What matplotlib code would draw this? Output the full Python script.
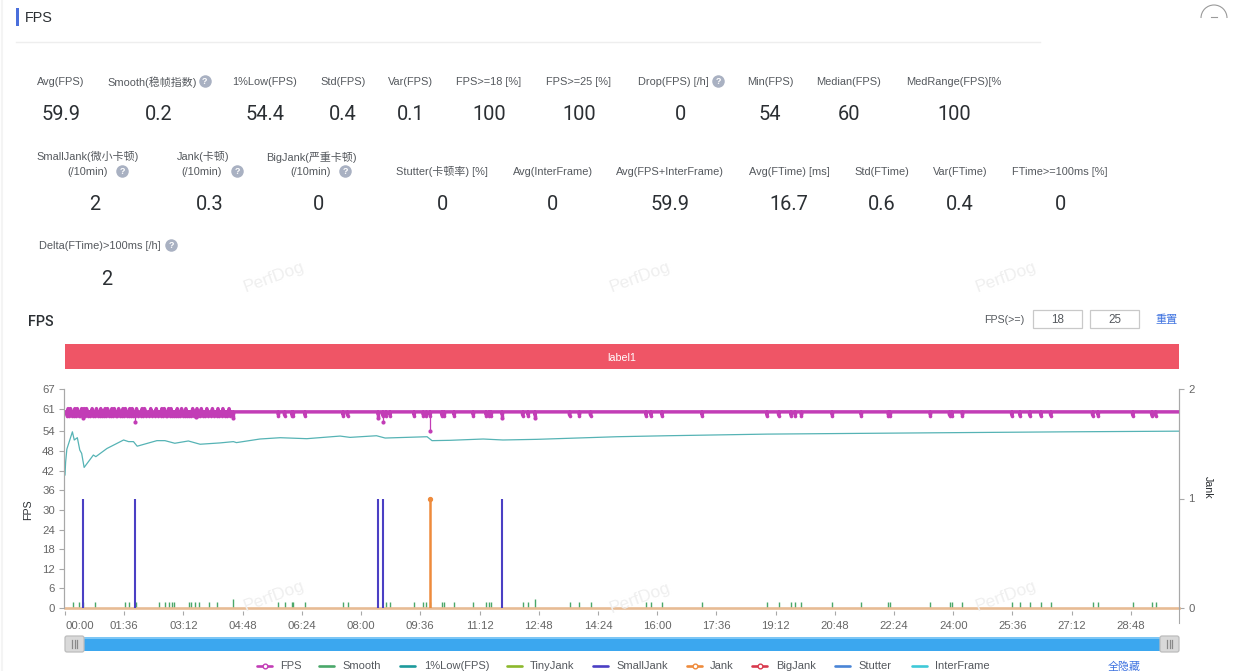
import matplotlib
matplotlib.use("Agg")
import matplotlib.pyplot as plt
from matplotlib.patches import Rectangle, FancyBboxPatch, Arc
import numpy as np

plt.rcParams['font.family'] = ['Liberation Sans', 'Noto Sans CJK SC', 'DejaVu Sans']
NUM_FONT = ['Roboto', 'Liberation Sans', 'DejaVu Sans']

W, H = 1242, 671
DURATION = 1806  # seconds

# summary stats
row1_labels = ["Avg(FPS)", "Smooth(稳帧指数)", "1%Low(FPS)", "Std(FPS)", "Var(FPS)", "FPS>=18 [%]",
               "FPS>=25 [%]", "Drop(FPS) [/h]", "Min(FPS)", "Median(FPS)", "MedRange(FPS)[%"]
row1_values = ["59.9", "0.2", "54.4", "0.4", "0.1", "100", "100", "0", "54", "60", "100"]
row2_labels = ["Stutter(卡顿率) [%]", "Avg(InterFrame)", "Avg(FPS+InterFrame)", "Avg(FTime) [ms]",
               "Std(FTime)", "Var(FTime)", "FTime>=100ms [%]"]
row2_values = ["0", "0", "59.9", "16.7", "0.6", "0.4", "0"]
jank_labels = ["SmallJank(微小卡顿)", "Jank(卡顿)", "BigJank(严重卡顿)"]
jank_values = ["2", "0.3", "0"]

# x axis
xtick_secs = [96 * i for i in range(19)]
xtick_labels = ["00:00", "01:36", "03:12", "04:48", "06:24", "08:00", "09:36", "11:12", "12:48", "14:24",
                "16:00", "17:36", "19:12", "20:48", "22:24", "24:00", "25:36", "27:12", "28:48"]
fps_ticks = [0, 6, 12, 18, 24, 30, 36, 42, 48, 54, 61, 67]
jank_ticks = [0, 1, 2]

# FPS sits at 60 apart from these
fps_dip_times = [3, 7, 11, 14, 18, 22, 25, 29, 33, 37, 41, 46, 49, 53, 56, 60, 63, 67, 71, 74, 78, 82, 85, 89,
                 92, 96, 100, 103, 107, 111, 114, 118, 123, 127, 131, 136, 141, 146, 150, 155, 159, 163, 166,
                 170, 174, 177, 180, 184, 187, 191, 194, 198, 201, 205, 209, 212, 216, 219, 223, 227, 232, 236,
                 241, 246, 250, 254, 259, 263, 268, 273,
                 346, 356, 368, 370, 389, 451, 458, 508, 515, 520, 527, 566, 581, 586, 592, 611, 615, 631,
                 662, 683, 687, 691, 709, 742, 751, 762, 818, 834, 852, 942, 950, 968, 1033, 1138, 1157, 1177,
                 1184, 1194, 1244, 1291, 1335, 1338, 1403, 1434, 1438, 1455, 1535, 1548, 1564, 1582, 1598,
                 1666, 1675, 1731, 1762, 1768]
fps_deep_times = [29, 114, 212, 273, 508, 515, 592, 709, 762]
fps_deep_values = [58, 57, 58.5, 58, 58, 57, 54, 58, 58]
fps_peak_times = [5, 9, 16, 20, 27, 31, 35, 44, 51, 58, 65, 69, 76, 80, 87, 94, 98, 105, 109, 116, 125, 129,
                  139, 148, 157, 161, 168, 172, 182, 189, 196, 207, 214, 221, 230, 239, 248, 256, 266]

# 1%Low(FPS), read at the bends
low_times = [0, 1, 3, 12, 15, 20, 24, 27, 31, 46, 50, 68, 95, 103, 111, 117, 149, 162, 178, 200, 219, 251, 273,
             278, 316, 349, 392, 446, 462, 505, 519, 587, 595, 624, 678, 710, 765, 895, 976, 1138, 1273, 1408,
             1625, 1806]
low_values = [40.7, 44.6, 48.6, 53.9, 51.4, 52.1, 48.3, 47.3, 43, 46.8, 46.3, 48.8, 51.4, 50.9, 50.9, 49.5,
              51.2, 51.2, 50.4, 51.1, 50.1, 50.5, 50.9, 50.6, 51.7, 52.1, 51.8, 52.6, 52.2, 52.7, 52, 52.4,
              51.2, 51.3, 51.7, 51.4, 51.6, 52.4, 52.7, 53.2, 53.4, 53.6, 53.9, 54.1]

# Smooth spikes on the FPS axis
smooth_times = [13, 22, 29, 48, 97, 104, 115, 152, 162, 169, 173, 177, 201, 204, 211, 217, 234, 247, 273, 346,
                356, 368, 370, 389, 451, 458, 520, 527, 566, 581, 586, 592, 611, 615, 631, 662, 683, 687, 691,
                742, 751, 762, 818, 834, 852, 942, 950, 968, 1033, 1138, 1157, 1177, 1184, 1194, 1244, 1291,
                1335, 1338, 1403, 1434, 1438, 1455, 1535, 1548, 1564, 1582, 1598, 1666, 1675, 1731, 1762, 1768]
smooth_tall_times = [273, 762]
smooth_height = 1.9
smooth_tall_height = 2.9

# jank events, in counts on the right axis
small_jank_times = [29, 114, 508, 515, 709]
jank_times = [592]

series_names = ["FPS", "Smooth", "1%Low(FPS)", "TinyJank", "SmallJank", "Jank", "BigJank", "Stutter", "InterFrame"]
series_colors = ["#c23db6", "#4aa86a", "#1d9a9c", "#8cb82c", "#4b3fc4", "#ee8b3c", "#d93a4e", "#4a85d6", "#3fc9d8"]
color = dict(zip(series_names, series_colors))

TXT = "#55595e"
DARK = "#2b2f33"
AXIS = "#a8a8a8"
TICKTXT = "#666666"
LINK = "#3f73e0"

fig = plt.figure(figsize=(W / 100, H / 100), dpi=100, facecolor="white")

# main chart
ax = fig.add_axes([64 / W, 1 - 608 / H, (1179 - 64) / W, (608 - 389) / H])
sec_per_px = DURATION / (1179 - 65)
ax.set_xlim(-sec_per_px, DURATION)
ax.set_ylim(0, 67)
t = np.arange(DURATION + 1)

fps = np.full(DURATION + 1, 60.0)
fps[fps_dip_times] = 59
fps[fps_peak_times] = 61
ax.plot(t, fps, color=color["FPS"], lw=2.5, zorder=4, solid_joinstyle="round")
ax.plot(fps_dip_times, fps[fps_dip_times] - 0.3, ls="none", marker="o", ms=2.6, mew=0, color=color["FPS"], zorder=4)
# deeper drops show as thin stems
ax.vlines(fps_deep_times, fps_deep_values, 60, color=color["FPS"], lw=0.9, zorder=4)
ax.plot(fps_deep_times, fps_deep_values, ls="none", marker="o", ms=3, mew=0, color=color["FPS"], zorder=4)

ax.plot(low_times, low_values, color=color["1%Low(FPS)"], lw=0.9, alpha=0.75, zorder=3)

smooth = np.zeros(DURATION + 1)
smooth[smooth_times] = smooth_height
smooth[smooth_tall_times] = smooth_tall_height
ax.vlines(smooth_times, 0, smooth[smooth_times], color=color["Smooth"], lw=1.0, zorder=2)

ax2 = ax.twinx()
ax2.set_ylim(0, 2)
ax2.set_zorder(ax.get_zorder() + 1)
ax2.patch.set_visible(False)
ax2.vlines(small_jank_times, 0, 1, color=color["SmallJank"], lw=1.5, zorder=3)
ax2.vlines(jank_times, 0, 1, color=color["Jank"], lw=1.8, zorder=3)
ax2.plot(jank_times, [1], ls="none", marker="o", ms=2.8, color=color["Jank"], zorder=4, clip_on=False)
ax2.plot([0, DURATION], [0, 0], color="#e7bb94", lw=1.9, zorder=2, clip_on=False)

for a in (ax, ax2):
    a.spines["top"].set_visible(False)
    a.spines["left"].set_color(AXIS)
    a.spines["right"].set_color(AXIS)
    a.spines["bottom"].set_visible(False)
    a.spines["bottom"].set_position(("outward", 2.2))

ax.set_yticks(fps_ticks)
ax.set_xticks(xtick_secs)
ax.set_xticklabels(xtick_labels)
ax.tick_params(axis="y", length=3.6, width=0.8, color=AXIS, labelcolor=TICKTXT, labelsize=8.2, pad=3)
ax.tick_params(axis="x", length=3, width=0.8, color=AXIS, labelcolor=TICKTXT, labelsize=8.2, pad=4)
ax.xaxis.get_majorticklabels()[0].set_horizontalalignment("left")
ax2.set_yticks(jank_ticks)
ax2.tick_params(axis="y", length=3.6, width=0.8, color=AXIS, labelcolor=TICKTXT, labelsize=8.2, pad=3)

# everything around the chart is laid out in pixels
ov = fig.add_axes([0, 0, 1, 1], zorder=10)
ov.set_xlim(0, W)
ov.set_ylim(H, 0)
ov.axis("off")
ov.patch.set_visible(False)


def label(x, y, s, size=7.9, c=TXT, ha="center", **kw):
    ov.text(x, y + 0.8, s, fontsize=size, color=c, ha=ha, va="center", **kw)


def number(x, y, s):
    ov.text(x, y + 1.2, s, fontsize=14.4, color=DARK, ha="center", va="center", family=NUM_FONT)


def help_icon(x, y):
    ov.plot([x], [y], marker="o", ms=9, color="#a9b1c2", mew=0)
    ov.text(x, y, "?", fontsize=6.5, color="white", ha="center", va="center", fontweight="bold")


# page header
ov.add_patch(Rectangle((16, 8), 3, 18, color="#4a6fdc", lw=0))
label(25, 17, "FPS", size=10.4, c=DARK, ha="left")
ov.plot([16, 1040], [42, 42], color="#eeeeee", lw=1)
ov.plot([2, 2], [0, H], color="#f4f4f4", lw=1.5)
ov.add_patch(Arc((1214, 18), 26, 26, theta1=180, theta2=360, color="#9a9a9a", lw=0.8))
ov.plot([1211, 1217], [17, 17], color="#9a9a9a", lw=0.8)

# summary rows
row1_cx = [61, 152, 265, 343, 411, 489, 579, 673, 770, 849, 954]
row1_vx = [61, 159, 265, 343, 411, 489, 579, 680, 770, 849, 954]
for x, vx, s, v in zip(row1_cx, row1_vx, row1_labels, row1_values):
    label(x, 81, s)
    number(vx, 113, v)
help_icon(204.5, 81)
help_icon(718, 81)

for x, s in zip([88, 203, 311], jank_labels):
    label(x, 156, s)
for x, ix, vx, v in zip([88, 202, 311], [122, 237, 345], [95, 210, 318], jank_values):
    label(x, 171, "(/10min)")
    help_icon(ix, 171)
    number(vx, 203.5, v)

for x, s, v in zip([442, 553, 670, 789, 882, 960, 1060], row2_labels, row2_values):
    label(x, 171, s)
    number(x, 203.5, v)

label(100, 245, "Delta(FTime)>100ms [/h]")
help_icon(171, 245)
number(107, 278, "2")

# watermark
for x, y in [(274, 277), (640, 277), (1006, 277), (274, 596), (640, 598), (1006, 596)]:
    ov.text(x, y, "PerfDog", fontsize=12.5, color="#efefef", rotation=20, ha="center", va="center", zorder=0)

# chart title and threshold inputs
ov.text(28, 321.5, "FPS", fontsize=10.4, color=DARK, ha="left", va="center", family=NUM_FONT, fontweight="medium")
label(1004.5, 319, "FPS(>=)", size=7.7, c=TXT)
for x, s in zip([1033, 1090], ["18", "25"]):
    ov.add_patch(Rectangle((x, 310), 49, 18, fc="white", ec="#c9c9c9", lw=0.9))
    label(x + 24.5, 319, s, size=8.4, c=TXT)
label(1167, 319, "重置", size=8, c=LINK)

# label band
ov.add_patch(Rectangle((65, 344), 1114, 25, color="#ef5566", lw=0))
label(622, 357, "label1", size=7.7, c="white")

# axis titles
label(28, 509, "FPS", size=7.7, c=DARK, rotation=90)
label(1208, 487, "Jank", size=7.7, c=DARK, rotation=-90)
ov.plot([1179, 1179], [608, 623], color=AXIS, lw=0.8)

# range slider
ov.add_patch(Rectangle((65, 637), 1114, 14, color="#3ba7ef", lw=0))
ov.add_patch(Rectangle((65, 637), 1114, 1.5, color="#7cc6f5", lw=0))
for x in (65, 1160):
    ov.add_patch(FancyBboxPatch((x, 636), 19, 16, boxstyle="round,pad=0,rounding_size=2",
                                fc="#d9d9d9", ec="#bdbdbd", lw=0.9))
    for dx in (-2.5, 0, 2.5):
        ov.plot([x + 9.5 + dx] * 2, [640, 648], color="#8a8a8a", lw=0.9)

# legend
handle_x = [257, 319, 400, 507, 593, 687, 752, 835, 912]
text_x = [280, 342, 424, 530, 616, 710, 776, 858, 935]
with_marker = ["FPS", "Jank", "BigJank"]
for hx, tx, name in zip(handle_x, text_x, series_names):
    ov.plot([hx, hx + 15], [665.5, 665.5], color=color[name], lw=1.9, solid_capstyle="round")
    if name in with_marker:
        ov.plot([hx + 7.5], [665.5], marker="o", ms=3.4, mfc="white", mec=color[name], mew=1)
    label(tx, 665.5, name, size=8, c=TXT, ha="left")
label(1124.5, 665.5, "全隐藏", size=7.9, c=LINK)

fig.savefig("out.png", dpi=100)
